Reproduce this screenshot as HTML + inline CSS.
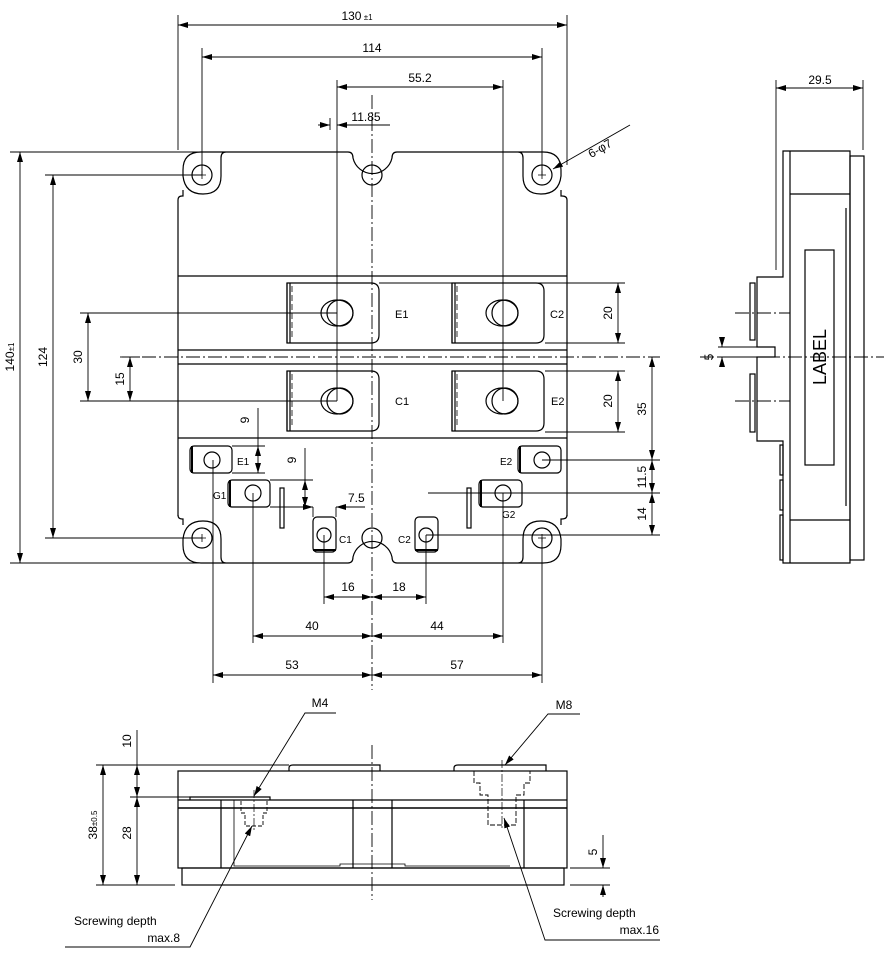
<!DOCTYPE html>
<html><head><meta charset="utf-8"><style>
html,body{margin:0;padding:0;background:#fff}
svg{display:block}
text{font-family:"Liberation Sans",sans-serif;fill:#000}
</style></head><body>
<svg width="884" height="953" viewBox="0 0 884 953" xmlns="http://www.w3.org/2000/svg" font-size="12">
<defs>
<marker id="a" viewBox="0 0 10 6" refX="10" refY="3" markerWidth="10" markerHeight="6" orient="auto-start-reverse" markerUnits="userSpaceOnUse"><path d="M0,0L10,3L0,6Z" fill="#000"/></marker>
</defs>
<g fill="none" stroke="#000" stroke-width="1.2">
<!-- top view outline -->
<path d="M226,152 H348 Q353,152 353,158 A20,20 0 0 0 392,158 Q392,152 397,152 H518"/>
<path d="M226,563 H348 Q353,563 353,557 A20,20 0 0 1 392,557 Q392,563 397,563 H518"/>
<line x1="178" y1="200" x2="178" y2="516"/>
<line x1="567" y1="200" x2="567" y2="516"/>
<!-- top-left ear -->
<path d="M226,152 Q221,152 221,158 V176 Q221,194 203,194 Q185,194 183,176 V170 Q183,152 201,152 H226"/>
<path d="M183,190 V196 H182 Q178,196 178,200"/>
<!-- top-right ear -->
<path d="M518,152 Q523,152 523,158 V176 Q523,194 541,194 Q559,194 561,176 V170 Q561,152 543,152 H518"/>
<path d="M561,190 V196 H562 Q567,196 567,200"/>
<!-- bottom-left ear -->
<path d="M226,563 Q221,563 221,557 V539 Q221,521 203,521 Q185,521 183,539 V545 Q183,563 201,563 H226"/>
<path d="M183,525 V519 H182 Q178,519 178,515"/>
<!-- bottom-right ear -->
<path d="M518,563 Q523,563 523,557 V539 Q523,521 541,521 Q559,521 561,539 V545 Q561,563 543,563 H518"/>
<path d="M561,525 V519 H562 Q567,519 567,515"/>
<circle cx="202" cy="175" r="10"/><circle cx="542" cy="175" r="10"/>
<circle cx="202" cy="538" r="10"/><circle cx="542" cy="538" r="10"/>
<circle cx="372" cy="175" r="10"/><circle cx="372" cy="538" r="10"/>
<path d="M198,175h8M202,171v8M538,175h8M542,171v8M198,538h8M202,534v8M538,538h8M542,534v8" stroke-width="0.8"/>
<line x1="178" y1="276" x2="567" y2="276"/>
<line x1="178" y1="350" x2="567" y2="350"/>
<line x1="178" y1="364" x2="567" y2="364"/>
<line x1="178" y1="438" x2="567" y2="438"/>
<!-- big terminals -->
<g id="bt">
<path d="M287,283 H371 Q379,283 379,291 V335 Q379,343 371,343 H287 Z"/>
<path d="M287,283 V343 M290,283 V343" />
<path d="M292,286 V340" stroke-dasharray="6,3" stroke-width="0.8"/>
<ellipse cx="337" cy="313" rx="16" ry="13"/><ellipse cx="340" cy="313" rx="13" ry="13"/>
</g>
<use href="#bt" x="0" y="88"/><use href="#bt" x="165" y="0"/><use href="#bt" x="165" y="88"/>
<!-- small terminals -->
<rect x="190" y="446" width="42" height="27" rx="4"/><line x1="192" y1="446" x2="192" y2="473" stroke-width="2"/><circle cx="212" cy="460" r="8"/>
<rect x="228" y="480" width="42" height="27" rx="4"/><line x1="230" y1="480" x2="230" y2="507" stroke-width="2"/><circle cx="253" cy="493" r="8"/>
<rect x="518" y="446" width="43" height="27" rx="4"/><line x1="520" y1="446" x2="520" y2="473" stroke-width="2"/><circle cx="542" cy="460" r="8"/>
<rect x="479" y="480" width="43" height="27" rx="4"/><line x1="481" y1="480" x2="481" y2="507" stroke-width="2"/><circle cx="503" cy="493" r="8"/>
<rect x="313" y="517" width="23" height="35" rx="4"/><line x1="313" y1="550" x2="336" y2="550" stroke-width="2"/><circle cx="324" cy="535" r="7"/>
<rect x="415" y="517" width="23" height="35" rx="4"/><line x1="415" y1="550" x2="438" y2="550" stroke-width="2"/><circle cx="426" cy="535" r="7"/>
<rect x="280" y="488" width="4" height="40"/><rect x="467" y="488" width="4" height="40"/>
<!-- centerlines -->
<g stroke-dasharray="14,3,2,3" stroke-width="0.9">
<line x1="372" y1="95" x2="372" y2="690"/>
<line x1="120" y1="357" x2="660" y2="357"/>
<line x1="372" y1="745" x2="372" y2="900"/>
<line x1="700" y1="357" x2="884" y2="357"/>
<line x1="735" y1="313" x2="790" y2="313"/>
<line x1="735" y1="401" x2="790" y2="401"/>
</g>
<!-- dimension extension lines -->
<g stroke-width="0.9">
<line x1="178" y1="15" x2="178" y2="150"/><line x1="567" y1="15" x2="567" y2="165"/>
<line x1="202" y1="48" x2="202" y2="175"/><line x1="542" y1="48" x2="542" y2="175"/>
<line x1="337" y1="80" x2="337" y2="401"/><line x1="503" y1="80" x2="503" y2="401"/>
<line x1="330" y1="118" x2="330" y2="130"/>
<line x1="10" y1="152" x2="224" y2="152"/><line x1="10" y1="563" x2="224" y2="563"/>
<line x1="45" y1="175" x2="202" y2="175"/><line x1="45" y1="538" x2="202" y2="538"/>
<line x1="80" y1="313" x2="337" y2="313"/><line x1="80" y1="401" x2="337" y2="401"/>
<line x1="122" y1="357" x2="140" y2="357"/>
<line x1="379" y1="283" x2="625" y2="283"/><line x1="545" y1="343" x2="625" y2="343"/>
<line x1="545" y1="371" x2="625" y2="371"/><line x1="545" y1="432" x2="625" y2="432"/>
<line x1="542" y1="460" x2="660" y2="460"/><line x1="428" y1="493" x2="660" y2="493"/>
<line x1="426" y1="535" x2="660" y2="535"/>
<line x1="232" y1="446" x2="265" y2="446"/><line x1="232" y1="473" x2="265" y2="473"/>
<line x1="270" y1="480" x2="313" y2="480"/><line x1="270" y1="507" x2="313" y2="507"/>
<line x1="313" y1="507" x2="313" y2="517"/><line x1="336" y1="507" x2="336" y2="517"/>
<line x1="213" y1="460" x2="213" y2="683"/><line x1="542" y1="538" x2="542" y2="683"/>
<line x1="253" y1="493" x2="253" y2="643"/><line x1="503" y1="493" x2="503" y2="643"/>
<line x1="324" y1="535" x2="324" y2="604"/><line x1="426" y1="535" x2="426" y2="604"/>
</g>
<!-- dimension lines -->
<g stroke-width="0.9" marker-start="url(#a)" marker-end="url(#a)">
<line x1="178" y1="25" x2="567" y2="25"/>
<line x1="202" y1="57" x2="542" y2="57"/>
<line x1="337" y1="87" x2="503" y2="87"/>
<line x1="20" y1="152" x2="20" y2="563"/>
<line x1="53" y1="175" x2="53" y2="538"/>
<line x1="88" y1="313" x2="88" y2="401"/>
<line x1="130" y1="357" x2="130" y2="401"/>
<line x1="618" y1="283" x2="618" y2="343"/>
<line x1="618" y1="371" x2="618" y2="432"/>
<line x1="652" y1="357" x2="652" y2="460"/>
<line x1="652" y1="460" x2="652" y2="493"/>
<line x1="652" y1="493" x2="652" y2="535"/>
<line x1="258" y1="446" x2="258" y2="473"/>
<line x1="305" y1="480" x2="305" y2="507"/>
<line x1="324" y1="597" x2="372" y2="597"/>
<line x1="372" y1="597" x2="426" y2="597"/>
<line x1="253" y1="636" x2="372" y2="636"/>
<line x1="372" y1="636" x2="503" y2="636"/>
<line x1="213" y1="675" x2="372" y2="675"/>
<line x1="372" y1="675" x2="542" y2="675"/>
<line x1="776" y1="88" x2="863" y2="88"/>
</g>
<line x1="258" y1="408" x2="258" y2="446" stroke-width="0.9"/>
<line x1="305" y1="448" x2="305" y2="480" stroke-width="0.9"/>
<line x1="300" y1="507" x2="313" y2="507" stroke-width="0.9" marker-end="url(#a)"/>
<line x1="350" y1="507" x2="336" y2="507" stroke-width="0.9" marker-end="url(#a)"/>
<line x1="336" y1="507" x2="365" y2="507" stroke-width="0.9"/>
<line x1="318" y1="125" x2="330" y2="125" stroke-width="0.9" marker-end="url(#a)"/>
<line x1="350" y1="125" x2="337" y2="125" stroke-width="0.9" marker-end="url(#a)"/>
<line x1="337" y1="125" x2="390" y2="125" stroke-width="0.9"/>
<line x1="630" y1="125" x2="553" y2="169" stroke-width="0.9" marker-end="url(#a)"/>
<!-- side view -->
<line x1="776" y1="80" x2="776" y2="270" stroke-width="0.9"/><line x1="863" y1="80" x2="863" y2="150" stroke-width="0.9"/>
<path d="M783,151 H850 V563 H783 V441 H757 V357 H775 V347 H757 V277 H783 Z"/>
<line x1="790" y1="151" x2="790" y2="563"/>
<line x1="790" y1="194" x2="850" y2="194"/><line x1="790" y1="520" x2="850" y2="520"/>
<rect x="850" y="156" width="14" height="404"/>
<line x1="846" y1="208" x2="846" y2="506"/>
<rect x="805" y="250" width="29" height="215"/>
<rect x="750" y="283" width="5" height="57"/><rect x="750" y="374" width="5" height="58"/>
<rect x="780" y="445" width="3" height="30"/><rect x="780" y="480" width="3" height="30"/><rect x="780" y="515" width="3" height="45"/>
<line x1="718" y1="347" x2="757" y2="347" stroke-width="0.9"/><line x1="718" y1="357" x2="757" y2="357" stroke-width="0.9"/>
<line x1="722" y1="337" x2="722" y2="347" stroke-width="0.9" marker-end="url(#a)"/>
<line x1="722" y1="367" x2="722" y2="357" stroke-width="0.9" marker-end="url(#a)"/>
<!-- bottom view -->
<rect x="178" y="771" width="389" height="97"/>
<path d="M289,771 V768 Q289,765 293,765 H380 V771"/>
<path d="M454,771 V768 Q454,765 458,765 H546 V771"/>
<line x1="178" y1="800" x2="567" y2="800"/><line x1="178" y1="808" x2="567" y2="808" stroke-width="1.6"/>
<path d="M190,800 V797 H270 V800"/>
<rect x="182" y="868" width="382" height="17"/>
<line x1="221" y1="800" x2="221" y2="868"/><line x1="353" y1="800" x2="353" y2="868"/>
<line x1="392" y1="800" x2="392" y2="868"/><line x1="524" y1="800" x2="524" y2="868"/>
<path d="M234,800 V866 H340 V864 H405 V866 H510" stroke-width="0.8"/>
<path d="M241,801 V813 H245 V826 H263 V813 H267 V801" stroke-dasharray="4,2" stroke-width="0.9"/>
<path d="M474,771 V783 H480 V795 H488 V825 H516 V795 H524 V783 H530 V771" stroke-dasharray="5,2" stroke-width="0.9"/>
<line x1="254" y1="790" x2="254" y2="832" stroke-dasharray="8,2,2,2" stroke-width="0.7"/>
<line x1="502" y1="760" x2="502" y2="830" stroke-dasharray="8,2,2,2" stroke-width="0.7"/>
<line x1="96" y1="765" x2="289" y2="765" stroke-width="0.9"/>
<line x1="130" y1="797" x2="190" y2="797" stroke-width="0.9"/>
<line x1="96" y1="885" x2="175" y2="885" stroke-width="0.9"/>
<line x1="570" y1="868" x2="610" y2="868" stroke-width="0.9"/><line x1="570" y1="885" x2="610" y2="885" stroke-width="0.9"/>
<line x1="137" y1="730" x2="137" y2="765" stroke-width="0.9"/>
<g stroke-width="0.9" marker-start="url(#a)" marker-end="url(#a)">
<line x1="103" y1="765" x2="103" y2="885"/>
<line x1="137" y1="765" x2="137" y2="797"/>
<line x1="137" y1="797" x2="137" y2="885"/>
</g>
<line x1="603" y1="835" x2="603" y2="868" stroke-width="0.9" marker-end="url(#a)"/>
<line x1="603" y1="897" x2="603" y2="885" stroke-width="0.9" marker-end="url(#a)"/>
<path d="M336,713 H305 L254,796" stroke-width="0.9" marker-end="url(#a)"/>
<path d="M580,714 H548 L505,765" stroke-width="0.9" marker-end="url(#a)"/>
<path d="M65,947 H190 L252,826" stroke-width="0.9" marker-end="url(#a)"/>
<path d="M660,940 H545 L504,818" stroke-width="0.9" marker-end="url(#a)"/>
</g>
<!-- text -->
<g>
<text x="357" y="20" text-anchor="middle">130<tspan style="font-size:8px"> ±1</tspan></text>
<text x="372" y="52" text-anchor="middle">114</text>
<text x="420" y="82" text-anchor="middle">55.2</text>
<text x="366" y="121" text-anchor="middle">11.85</text>
<text x="602" y="152" text-anchor="middle" transform="rotate(-30 602 152)">6-φ7</text>
<text transform="translate(14 357) rotate(-90)" text-anchor="middle">140<tspan style="font-size:8px">±1</tspan></text>
<text transform="translate(47 357) rotate(-90)" text-anchor="middle">124</text>
<text transform="translate(82 357) rotate(-90)" text-anchor="middle">30</text>
<text transform="translate(124 379) rotate(-90)" text-anchor="middle">15</text>
<text transform="translate(612 313) rotate(-90)" text-anchor="middle">20</text>
<text transform="translate(612 401) rotate(-90)" text-anchor="middle">20</text>
<text transform="translate(646 409) rotate(-90)" text-anchor="middle">35</text>
<text transform="translate(646 477) rotate(-90)" text-anchor="middle">11.5</text>
<text transform="translate(646 514) rotate(-90)" text-anchor="middle">14</text>
<text transform="translate(249 420) rotate(-90)" text-anchor="middle">9</text>
<text transform="translate(296 460) rotate(-90)" text-anchor="middle">9</text>
<text x="348" y="502">7.5</text>
<text x="395" y="318" style="font-size:11px">E1</text><text x="550" y="318" style="font-size:11px">C2</text>
<text x="395" y="405" style="font-size:11px">C1</text><text x="551" y="405" style="font-size:11px">E2</text>
<text x="237" y="465" style="font-size:10px">E1</text><text x="500" y="465" style="font-size:10px">E2</text>
<text x="213" y="499" style="font-size:10px">G1</text><text x="502" y="518" style="font-size:10px">G2</text>
<text x="339" y="543" style="font-size:10px">C1</text><text x="398" y="543" style="font-size:10px">C2</text>
<text x="348" y="591" text-anchor="middle">16</text><text x="399" y="591" text-anchor="middle">18</text>
<text x="312" y="630" text-anchor="middle">40</text><text x="437" y="630" text-anchor="middle">44</text>
<text x="292" y="669" text-anchor="middle">53</text><text x="457" y="669" text-anchor="middle">57</text>
<text x="820" y="84" text-anchor="middle">29.5</text>
<text transform="translate(826 357) rotate(-90)" text-anchor="middle" style="font-size:18px">LABEL</text>
<text transform="translate(713 357) rotate(-90)" text-anchor="middle">5</text>
<text x="320" y="707" text-anchor="middle">M4</text>
<text x="564" y="709" text-anchor="middle">M8</text>
<text transform="translate(97 825) rotate(-90)" text-anchor="middle">38<tspan style="font-size:8px">±0.5</tspan></text>
<text transform="translate(131 741) rotate(-90)" text-anchor="middle">10</text>
<text transform="translate(131 833) rotate(-90)" text-anchor="middle">28</text>
<text transform="translate(597 852) rotate(-90)" text-anchor="middle">5</text>
<text x="74" y="925">Screwing depth</text>
<text x="180" y="942" text-anchor="end">max.8</text>
<text x="553" y="917">Screwing depth</text>
<text x="659" y="934" text-anchor="end">max.16</text>
</g>
</svg>
</body></html>
